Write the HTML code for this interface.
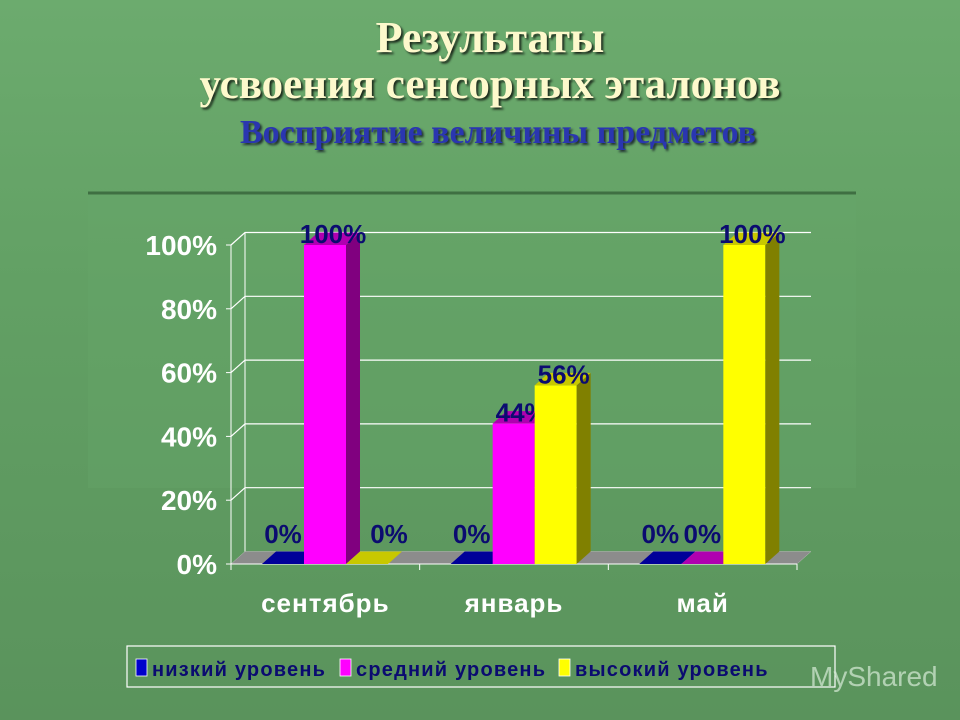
<!DOCTYPE html>
<html><head><meta charset="utf-8">
<style>
html,body{margin:0;padding:0}
body{width:960px;height:720px;overflow:hidden;background:linear-gradient(180deg,#6cab6e 0%,#62a064 40%,#5a935c 100%);font-family:"Liberation Sans",sans-serif;position:relative}
.t{position:absolute;left:0;width:960px;text-align:center;font-family:"Liberation Serif","Noto Serif CJK SC",serif;font-weight:bold;white-space:nowrap}
.t1{top:12px;left:10px;font-size:44px;color:#fdf9cc;text-shadow:2px 2px 2px #1c2a1c}
.t2{top:60px;left:10px;font-size:43px;color:#fdf9cc;text-shadow:2px 2px 2px #1c2a1c}
.t3{top:114px;font-size:34px;color:#2a36b0;text-shadow:2px 2px 2px #233;left:18px}
svg{position:absolute;left:0;top:0}
</style></head><body>
<div class="t t1">Результаты</div>
<div class="t t2">усвоения сенсорных эталонов</div>
<div class="t t3">Восприятие величины предметов</div>
<svg id="chart" width="960" height="720"></svg>
<script>
const categories=["сентябрь","январь","май"];
const seriesNames=["низкий уровень","средний уровень","высокий уровень"];
const lowValues=[0,0,0];
const midValues=[100,44,0];
const highValues=[0,56,100];
const yTicks=[0,20,40,60,80,100];

const NS="http://www.w3.org/2000/svg";
const svg=document.getElementById('chart');
function mk(tag,attrs,parent){const e=document.createElementNS(NS,tag);for(const k in attrs)e.setAttribute(k,attrs[k]);(parent||svg).appendChild(e);return e;}
const X0=231,X1=797,Y0=564,Y100=245,DX=14,DY=12.5;
const catW=(X1-X0)/categories.length, barW=42, pad=31;
const y=v=>Y0-(Y0-Y100)*v/100;
const colors=[["#0000cc","#00008a","#000099"],["#ff00ff","#80007f","#b000b0"],["#ffff00","#808000","#c8c800"]];
const series=[lowValues,midValues,highValues];
const FONT="Liberation Sans, sans-serif";

const panel=mk('rect',{x:88,y:192,width:768,height:296,fill:"#67a66a",opacity:0.35});

mk('line',{x1:88,y1:193,x2:856,y2:193,stroke:"#3f6f42","stroke-width":3});

yTicks.forEach(t=>{
  const yy=y(t);
  if(t>0){const g=mk('polyline',{points:`${X0},${yy} ${X0+DX},${yy-DY} ${X1+DX},${yy-DY}`,fill:"none",stroke:"#fff","stroke-width":1.2});
  }
  mk('line',{x1:X0-5,y1:yy,x2:X0,y2:yy,stroke:"#fff"});
  const lb=mk('text',{x:217,y:yy+10,"text-anchor":"end",fill:"#fff","font-size":28,"font-weight":"bold","font-family":FONT});
  lb.textContent=t+"%";
  
});
mk('line',{x1:X0+DX,y1:y(0)-DY,x2:X0+DX,y2:y(100)-DY,stroke:"#fff"});
mk('line',{x1:X0,y1:Y0,x2:X0,y2:y(100),stroke:"#fff"});
const fl=mk('polygon',{points:`${X0},${Y0} ${X0+DX},${Y0-DY} ${X1+DX},${Y0-DY} ${X1},${Y0}`,fill:"#8c8c8c",stroke:"#bbb","stroke-width":0.5});

mk('line',{x1:X0,y1:Y0,x2:X1,y2:Y0,stroke:"#fff"});
for(let i=0;i<=categories.length;i++){mk('line',{x1:X0+i*catW,y1:Y0,x2:X0+i*catW,y2:Y0+6,stroke:"#fff"});}

categories.forEach((c,ci)=>{
  const cx=X0+ci*catW;
  series.forEach((s,si)=>{
    const v=s[ci],bx=cx+pad+si*barW,top=y(v);
    const col=colors[si];
    const g=mk('g',{});
    
    
    mk('rect',{x:bx,y:top,width:barW,height:Y0-top,fill:col[0]},g);
    mk('polygon',{points:`${bx+barW},${top} ${bx+barW+DX},${top-DY} ${bx+barW+DX},${Y0-DY} ${bx+barW},${Y0}`,fill:col[1]},g);
    mk('polygon',{points:`${bx},${top} ${bx+DX},${top-DY} ${bx+barW+DX},${top-DY} ${bx+barW},${top}`,fill:col[2]},g);
    const lx=bx+barW/2+(v>0?8:(si===2?22:0));
    const lb=mk('text',{x:lx,y:(v>0?top-2:Y0-21),"text-anchor":"middle",fill:"#0b0b70","font-size":26,"font-weight":"bold","font-family":FONT});
    lb.textContent=v+"%";
    
    
  });
  const cl=mk('text',{x:cx+catW/2,y:612,"text-anchor":"middle",fill:"#fff","font-size":26,"font-weight":"bold","letter-spacing":1,"font-family":FONT});
  cl.textContent=c;
  
  
});

const lg=mk('g',{});


mk('rect',{x:127,y:646,width:708,height:41,fill:"none",stroke:"#fff","stroke-width":1.2},lg);
const lx=[136,340,559];
seriesNames.forEach((n,i)=>{
  const e=mk('g',{},lg);
  
  
  mk('rect',{x:lx[i],y:659,width:11,height:17,fill:colors[i][0],stroke:"#fff","stroke-width":0.8},e);
  const t=mk('text',{x:lx[i]+16,y:676,fill:"#0b0b70","font-size":20,"font-weight":"bold","letter-spacing":1.2,"font-family":FONT},e);
  t.textContent=n;
});
const wm=mk('text',{x:810,y:686,fill:"#d8ecd8",opacity:0.7,"font-size":28,"font-family":FONT});
wm.textContent="MyShared";


</script>
</body></html>
